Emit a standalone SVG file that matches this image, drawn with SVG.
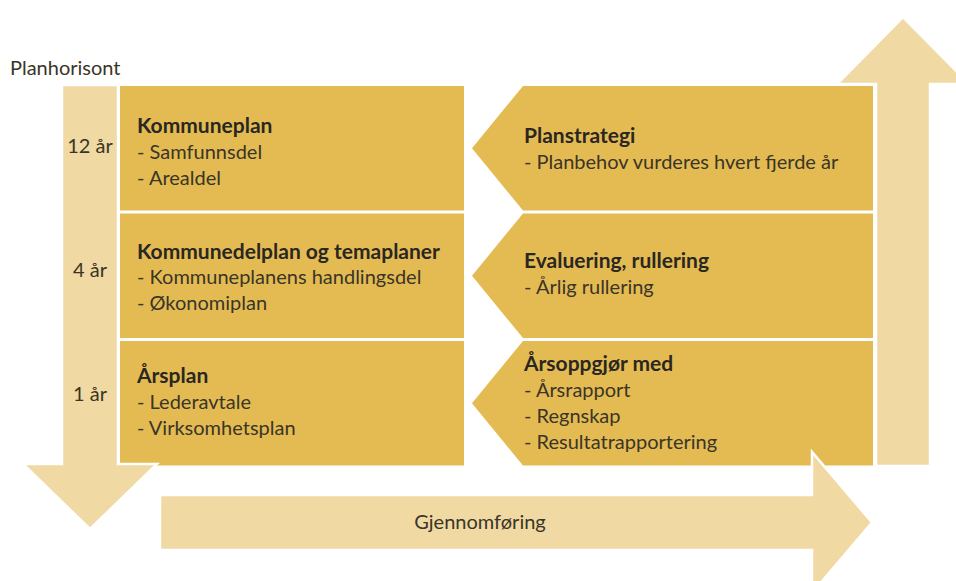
<svg xmlns="http://www.w3.org/2000/svg" width="956" height="581" viewBox="0 0 956 581">
<style>
.box{fill:#E4BB53}
.arrow{fill:#F0D9A3;stroke:#FFFFFF;stroke-width:2.5;stroke-linejoin:miter}
text{font-family:Lato,"Open Sans",sans-serif;font-size:20px;fill:#3A3526}
.b{font-weight:bold;font-size:21px;fill:#2A2722}
.c{text-anchor:middle}
</style>
<rect width="956" height="581" fill="#FFFFFF"/>
<g id="boxes-left">
<g id="kommuneplan"><rect class="box" x="120" y="86" width="344" height="124.5"/>
<text class="b" x="137" y="133">Kommuneplan</text>
<text x="137" y="159">- Samfunnsdel</text>
<text x="137" y="185">- Arealdel</text></g>
<g id="kommunedelplan"><rect class="box" x="120" y="213.5" width="344" height="124.5"/>
<text class="b" x="137" y="259">Kommunedelplan og temaplaner</text>
<text x="137" y="284">- Kommuneplanens handlingsdel</text>
<text x="137" y="310">- Økonomiplan</text></g>
<g id="aarsplan"><rect class="box" x="120" y="341" width="344" height="124.5"/>
<text class="b" x="137" y="383">Årsplan</text>
<text x="137" y="409">- Lederavtale</text>
<text x="137" y="435">- Virksomhetsplan</text></g>
</g>
<g id="boxes-right">
<g id="planstrategi"><polygon class="box" points="523,86 873,86 873,210.5 523,210.5 472,148.25"/>
<text class="b" x="524" y="143">Planstrategi</text>
<text x="524" y="169">- Planbehov vurderes hvert fjerde år</text></g>
<g id="evaluering"><polygon class="box" points="523,213.5 873,213.5 873,338 523,338 472,275.75"/>
<text class="b" x="524" y="268">Evaluering, rullering</text>
<text x="524" y="294">- Årlig rullering</text></g>
<g id="aarsoppgjor"><polygon class="box" points="523,341 873,341 873,465.5 523,465.5 472,403.25"/>
<text class="b" x="524" y="371">Årsoppgjør med</text>
<text x="524" y="397">- Årsrapport</text>
<text x="524" y="423">- Regnskap</text>
<text x="524" y="449">- Resultatrapportering</text></g>
</g>
<g id="connectors">
<g id="planhorisont-arrow"><polygon class="arrow" points="62,85 118,85 118,464 157,464 90,529 23,464 62,464"/>
<text class="c" x="90" y="153">12 år</text>
<text class="c" x="90" y="277">4 år</text>
<text class="c" x="90" y="401">1 år</text></g>
<g id="up-arrow"><polygon class="arrow" points="876,466 876,84 837,84 903,17 969,84 930,84 930,466"/></g>
<g id="gjennomforing-arrow"><polygon class="arrow" points="160,495 812,495 812,452 872,522.5 812,593 812,550 160,550"/>
<text class="c" x="480" y="529">Gjennomføring</text></g>
</g>
<text x="10" y="75">Planhorisont</text>
</svg>
